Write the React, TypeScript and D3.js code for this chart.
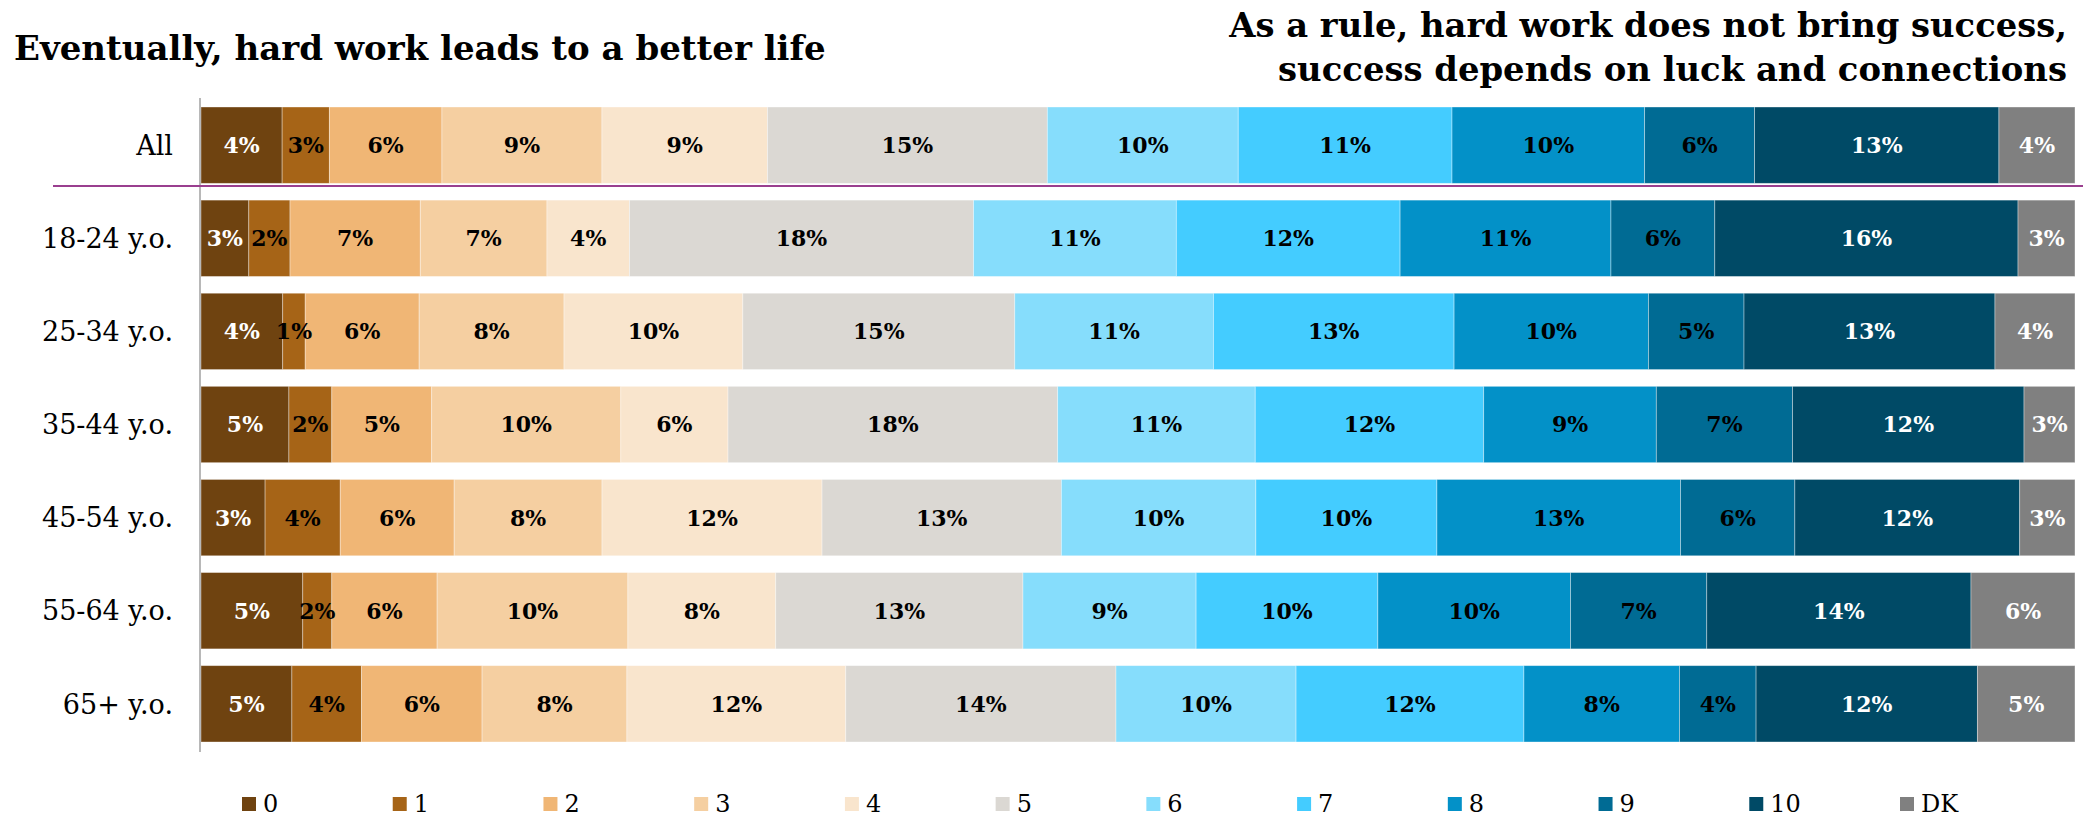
import React, { useLayoutEffect, useRef, useState } from 'react'
import * as d3 from 'd3'

const W = 2083
const H = 819

const groups = ['All', '18-24 y.o.', '25-34 y.o.', '35-44 y.o.', '45-54 y.o.', '55-64 y.o.', '65+ y.o.']
const keys = ['0', '1', '2', '3', '4', '5', '6', '7', '8', '9', '10', 'DK']
const colors = ['#6f4310', '#a66417', '#f0b675', '#f5cfa1', '#f9e5cd', '#dbd8d3', '#86ddfc', '#44ccff', '#0391c8', '#006b94', '#004a66', '#808080']
const lightText = ['0', '10', 'DK']

// shares per answer (0..10, DK), one array per group
const allRow = [4.33, 2.52, 6.01, 8.54, 8.83, 14.94, 10.19, 11.41, 10.28, 5.87, 13.04, 4.06]
const age18 = [2.55, 2.2, 6.95, 6.76, 4.4, 18.36, 10.82, 11.94, 11.25, 5.54, 16.18, 3.04]
const age25 = [4.36, 1.2, 6.08, 7.73, 9.54, 14.51, 10.6, 12.84, 10.37, 5.1, 13.39, 4.27]
const age35 = [4.69, 2.29, 5.33, 10.09, 5.72, 17.59, 10.54, 12.19, 9.21, 7.27, 12.35, 2.72]
const age45 = [3.42, 4.01, 6.08, 7.89, 11.74, 12.77, 10.38, 9.66, 13.0, 6.1, 12.0, 2.95]
const age55 = [5.43, 1.55, 5.62, 10.18, 7.89, 13.19, 9.24, 9.7, 10.28, 7.27, 14.1, 5.55]
const age65 = [4.85, 3.72, 6.43, 7.73, 11.68, 14.42, 9.61, 12.16, 8.3, 4.09, 11.81, 5.21]

const titleLeft = 'Eventually, hard work leads to a better life'
const titleRight1 = 'As a rule, hard work does not bring success,'
const titleRight2 = 'success depends on luck and connections'

const FONT = "'DejaVu Serif', Georgia, serif"

// bold title whose font size is fitted to a target width
const FitTitle: React.FC<{ x: number; y: number; width: number; anchor?: 'start' | 'end'; text: string }> = ({
  x,
  y,
  width,
  anchor = 'start',
  text,
}) => {
  const ref = useRef<SVGTextElement>(null)
  const [size, setSize] = useState(36)
  useLayoutEffect(() => {
    const len = ref.current?.getComputedTextLength() ?? 0
    if (len > 0) {
      const next = (size * width) / len
      if (Math.abs(next - size) > 0.05) setSize(next)
    }
  }, [size, width])
  return (
    <text ref={ref} x={x} y={y} fontSize={size} fontWeight="bold" textAnchor={anchor}>
      {text}
    </text>
  )
}

const App: React.FC = () => {
  const values = [allRow, age18, age25, age35, age45, age55, age65]
  const table = groups.map((g, i) => {
    const row: Record<string, any> = { group: g }
    keys.forEach((k, j) => (row[k] = values[i][j]))
    return row
  })

  const series = d3.stack<any>().keys(keys).offset(d3.stackOffsetExpand)(table)

  const x = d3.scaleLinear().domain([0, 1]).range([201, 2075])
  const y = d3.scaleBand<string>().domain(groups).range([107, 742]).paddingInner(0.18)
  const color = d3.scaleOrdinal<string, string>().domain(keys).range(colors)
  const legendX = d3.scalePoint<string>().domain(keys).range([242, 1900])

  return (
    <svg
      width={W}
      height={H}
      style={{ position: 'absolute', left: 0, top: 0, display: 'block', background: '#fff' }}
      fontFamily={FONT}
    >
      {/* titles */}
      <FitTitle x={14} y={60} width={812} text={titleLeft} />
      <FitTitle x={2067} y={37} width={838} anchor="end" text={titleRight1} />
      <FitTitle x={2067} y={81} width={789} anchor="end" text={titleRight2} />

      {/* bars */}
      {series.map((s) => (
        <g key={s.key} fill={color(s.key)}>
          {s.map((d) => (
            <rect
              key={d.data.group}
              x={x(d[0])}
              y={y(d.data.group)}
              width={x(d[1]) - x(d[0])}
              height={y.bandwidth()}
              stroke="rgba(255,255,255,0.45)"
              strokeWidth={0.8}
            />
          ))}
        </g>
      ))}

      {/* value labels */}
      {series.map((s, si) =>
        s.map((d, i) => (
          <text
            key={s.key + d.data.group}
            x={(x(d[0]) + x(d[1])) / 2}
            y={y(d.data.group)! + y.bandwidth() / 2}
            dy="0.36em"
            textAnchor="middle"
            fontSize={22}
            fontWeight="bold"
            fill={lightText.includes(s.key) ? '#fff' : '#000'}
          >
            {Math.round(values[i][si])}%
          </text>
        ))
      )}

      {/* category axis */}
      <line x1={200} x2={200} y1={98} y2={752} stroke="#a0a0a0" strokeWidth={1.5} />
      {groups.map((g) => (
        <text
          key={g}
          x={173}
          y={y(g)! + y.bandwidth() / 2}
          dy="0.36em"
          textAnchor="end"
          fontSize={27}
        >
          {g}
        </text>
      ))}

      {/* separator under "All" */}
      <line x1={53} x2={W} y1={186} y2={186} stroke="#9a3f8f" strokeWidth={2} />

      {/* legend */}
      {keys.map((k) => (
        <g key={k} transform={`translate(${legendX(k)},797)`}>
          <rect width={14} height={14} fill={color(k)} />
          <text x={21} y={15} fontSize={24}>
            {k}
          </text>
        </g>
      ))}
    </svg>
  )
}

export default App
